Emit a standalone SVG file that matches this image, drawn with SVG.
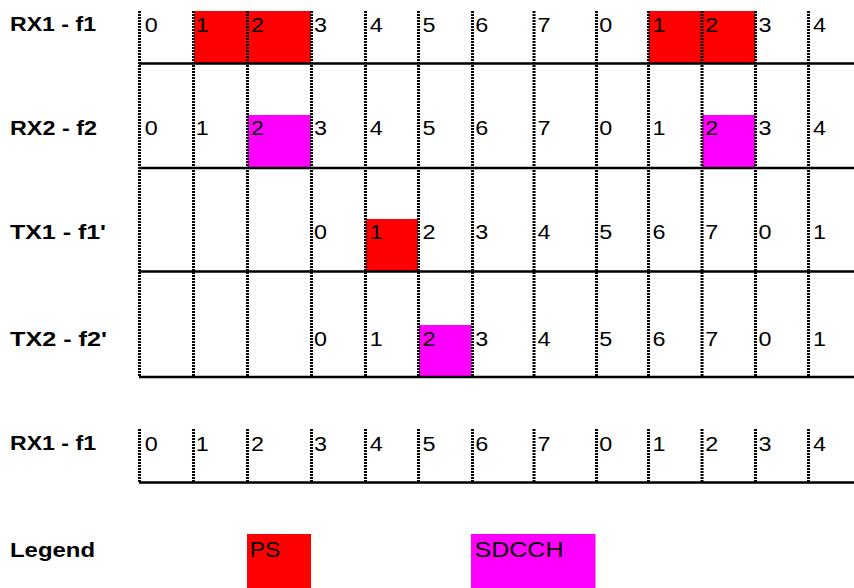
<svg xmlns="http://www.w3.org/2000/svg" width="854" height="588" viewBox="0 0 854 588">
<style>
.lbl{font-family:"Liberation Sans",Arial,sans-serif;font-weight:bold;font-size:21px;fill:#000}
.d{font-family:"Liberation Sans",Arial,sans-serif;font-size:20.5px;fill:#000}
.lg{font-family:"Liberation Sans",Arial,sans-serif;font-size:22px;fill:#000}
.dot{stroke:#000;stroke-width:3;stroke-dasharray:2 1;fill:none}
.hl{stroke:#000;stroke-width:2.5;fill:none}
.ps{fill:#FF0000}
.sd{fill:#FF00FF}
</style>
<rect width="854" height="588" fill="#fff"/>
<g id="fills">
<rect class="ps" x="194" y="11" width="117" height="52.5"/>
<rect class="ps" x="648.5" y="11" width="107" height="52.5"/>
<rect class="sd" x="247.5" y="115" width="63.5" height="53"/>
<rect class="sd" x="702" y="115" width="53.5" height="53"/>
<rect class="ps" x="365.5" y="219" width="52.5" height="52.5"/>
<rect class="sd" x="419" y="325" width="52.5" height="52"/>
</g>
<g id="connectors">
<path class="hl" d="M139 63.5H854M139 168H854M139 271.5H854M139 377H854M139 482.5H854"/>
<path class="dot" d="M139.5 11V377M193.5 11V377M247.5 11V377M311.5 11V377M365.5 11V377M418.5 11V377M472.5 11V377M534 11V377M596.5 11V377M648.5 11V377M702 11V377M755.5 11V377M808.5 11V377"/>
<path class="dot" d="M139.5 429V482M193.5 429V482M247.5 429V482M311.5 429V482M365.5 429V482M418.5 429V482M472.5 429V482M534 429V482M596.5 429V482M648.5 429V482M702 429V482M755.5 429V482M808.5 429V482"/>
</g>
<g id="row-rx1-f1">
<text class="lbl" x="10" y="31" textLength="86" lengthAdjust="spacingAndGlyphs">RX1 - f1</text>
<text class="d" y="31.7" textLength="13" lengthAdjust="spacingAndGlyphs" x="144.8">0</text>
<text class="d" y="31.7" textLength="13" lengthAdjust="spacingAndGlyphs" x="195.8">1</text>
<text class="d" y="31.7" textLength="13" lengthAdjust="spacingAndGlyphs" x="251">2</text>
<text class="d" y="31.7" textLength="13" lengthAdjust="spacingAndGlyphs" x="314">3</text>
<text class="d" y="31.7" textLength="13" lengthAdjust="spacingAndGlyphs" x="369.7">4</text>
<text class="d" y="31.7" textLength="13" lengthAdjust="spacingAndGlyphs" x="422.5">5</text>
<text class="d" y="31.7" textLength="13" lengthAdjust="spacingAndGlyphs" x="475.2">6</text>
<text class="d" y="31.7" textLength="13" lengthAdjust="spacingAndGlyphs" x="537.5">7</text>
<text class="d" y="31.7" textLength="13" lengthAdjust="spacingAndGlyphs" x="599.2">0</text>
<text class="d" y="31.7" textLength="13" lengthAdjust="spacingAndGlyphs" x="652.5">1</text>
<text class="d" y="31.7" textLength="13" lengthAdjust="spacingAndGlyphs" x="705.3">2</text>
<text class="d" y="31.7" textLength="13" lengthAdjust="spacingAndGlyphs" x="758.5">3</text>
<text class="d" y="31.7" textLength="13" lengthAdjust="spacingAndGlyphs" x="813">4</text>
</g>
<g id="row-rx2-f2">
<text class="lbl" x="10" y="135" textLength="87" lengthAdjust="spacingAndGlyphs">RX2 - f2</text>
<text class="d" y="135" textLength="13" lengthAdjust="spacingAndGlyphs" x="144.8">0</text>
<text class="d" y="135" textLength="13" lengthAdjust="spacingAndGlyphs" x="195.8">1</text>
<text class="d" y="135" textLength="13" lengthAdjust="spacingAndGlyphs" x="251">2</text>
<text class="d" y="135" textLength="13" lengthAdjust="spacingAndGlyphs" x="314">3</text>
<text class="d" y="135" textLength="13" lengthAdjust="spacingAndGlyphs" x="369.7">4</text>
<text class="d" y="135" textLength="13" lengthAdjust="spacingAndGlyphs" x="422.5">5</text>
<text class="d" y="135" textLength="13" lengthAdjust="spacingAndGlyphs" x="475.2">6</text>
<text class="d" y="135" textLength="13" lengthAdjust="spacingAndGlyphs" x="537.5">7</text>
<text class="d" y="135" textLength="13" lengthAdjust="spacingAndGlyphs" x="599.2">0</text>
<text class="d" y="135" textLength="13" lengthAdjust="spacingAndGlyphs" x="652.5">1</text>
<text class="d" y="135" textLength="13" lengthAdjust="spacingAndGlyphs" x="705.3">2</text>
<text class="d" y="135" textLength="13" lengthAdjust="spacingAndGlyphs" x="758.5">3</text>
<text class="d" y="135" textLength="13" lengthAdjust="spacingAndGlyphs" x="813">4</text>
</g>
<g id="row-tx1-f1p">
<text class="lbl" x="10" y="239.3" textLength="96" lengthAdjust="spacingAndGlyphs">TX1 - f1'</text>
<text class="d" y="239.3" textLength="13" lengthAdjust="spacingAndGlyphs" x="314">0</text>
<text class="d" y="239.3" textLength="13" lengthAdjust="spacingAndGlyphs" x="369.7">1</text>
<text class="d" y="239.3" textLength="13" lengthAdjust="spacingAndGlyphs" x="422.5">2</text>
<text class="d" y="239.3" textLength="13" lengthAdjust="spacingAndGlyphs" x="475.2">3</text>
<text class="d" y="239.3" textLength="13" lengthAdjust="spacingAndGlyphs" x="537.5">4</text>
<text class="d" y="239.3" textLength="13" lengthAdjust="spacingAndGlyphs" x="599.2">5</text>
<text class="d" y="239.3" textLength="13" lengthAdjust="spacingAndGlyphs" x="652.5">6</text>
<text class="d" y="239.3" textLength="13" lengthAdjust="spacingAndGlyphs" x="705.3">7</text>
<text class="d" y="239.3" textLength="13" lengthAdjust="spacingAndGlyphs" x="758.5">0</text>
<text class="d" y="239.3" textLength="13" lengthAdjust="spacingAndGlyphs" x="813">1</text>
</g>
<g id="row-tx2-f2p">
<text class="lbl" x="10" y="345.5" textLength="97" lengthAdjust="spacingAndGlyphs">TX2 - f2'</text>
<text class="d" y="345.5" textLength="13" lengthAdjust="spacingAndGlyphs" x="314">0</text>
<text class="d" y="345.5" textLength="13" lengthAdjust="spacingAndGlyphs" x="369.7">1</text>
<text class="d" y="345.5" textLength="13" lengthAdjust="spacingAndGlyphs" x="422.5">2</text>
<text class="d" y="345.5" textLength="13" lengthAdjust="spacingAndGlyphs" x="475.2">3</text>
<text class="d" y="345.5" textLength="13" lengthAdjust="spacingAndGlyphs" x="537.5">4</text>
<text class="d" y="345.5" textLength="13" lengthAdjust="spacingAndGlyphs" x="599.2">5</text>
<text class="d" y="345.5" textLength="13" lengthAdjust="spacingAndGlyphs" x="652.5">6</text>
<text class="d" y="345.5" textLength="13" lengthAdjust="spacingAndGlyphs" x="705.3">7</text>
<text class="d" y="345.5" textLength="13" lengthAdjust="spacingAndGlyphs" x="758.5">0</text>
<text class="d" y="345.5" textLength="13" lengthAdjust="spacingAndGlyphs" x="813">1</text>
</g>
<g id="row-rx1-f1-b">
<text class="lbl" x="10" y="449.5" textLength="86" lengthAdjust="spacingAndGlyphs">RX1 - f1</text>
<text class="d" y="450.5" textLength="13" lengthAdjust="spacingAndGlyphs" x="144.8">0</text>
<text class="d" y="450.5" textLength="13" lengthAdjust="spacingAndGlyphs" x="195.8">1</text>
<text class="d" y="450.5" textLength="13" lengthAdjust="spacingAndGlyphs" x="251">2</text>
<text class="d" y="450.5" textLength="13" lengthAdjust="spacingAndGlyphs" x="314">3</text>
<text class="d" y="450.5" textLength="13" lengthAdjust="spacingAndGlyphs" x="369.7">4</text>
<text class="d" y="450.5" textLength="13" lengthAdjust="spacingAndGlyphs" x="422.5">5</text>
<text class="d" y="450.5" textLength="13" lengthAdjust="spacingAndGlyphs" x="475.2">6</text>
<text class="d" y="450.5" textLength="13" lengthAdjust="spacingAndGlyphs" x="537.5">7</text>
<text class="d" y="450.5" textLength="13" lengthAdjust="spacingAndGlyphs" x="599.2">0</text>
<text class="d" y="450.5" textLength="13" lengthAdjust="spacingAndGlyphs" x="652.5">1</text>
<text class="d" y="450.5" textLength="13" lengthAdjust="spacingAndGlyphs" x="705.3">2</text>
<text class="d" y="450.5" textLength="13" lengthAdjust="spacingAndGlyphs" x="758.5">3</text>
<text class="d" y="450.5" textLength="13" lengthAdjust="spacingAndGlyphs" x="813">4</text>
</g>
<g id="legend">
<text class="lbl" x="10" y="557" textLength="85" lengthAdjust="spacingAndGlyphs">Legend</text>
<g id="legend-ps">
<rect class="ps" x="247" y="534" width="64" height="54"/>
<text class="lg" x="249.8" y="557" textLength="30.5" lengthAdjust="spacingAndGlyphs">PS</text>
</g>
<g id="legend-sdcch">
<rect class="sd" x="471" y="534" width="124.5" height="54"/>
<text class="lg" x="474.5" y="557" textLength="89" lengthAdjust="spacingAndGlyphs">SDCCH</text>
</g>
</g>
</svg>
